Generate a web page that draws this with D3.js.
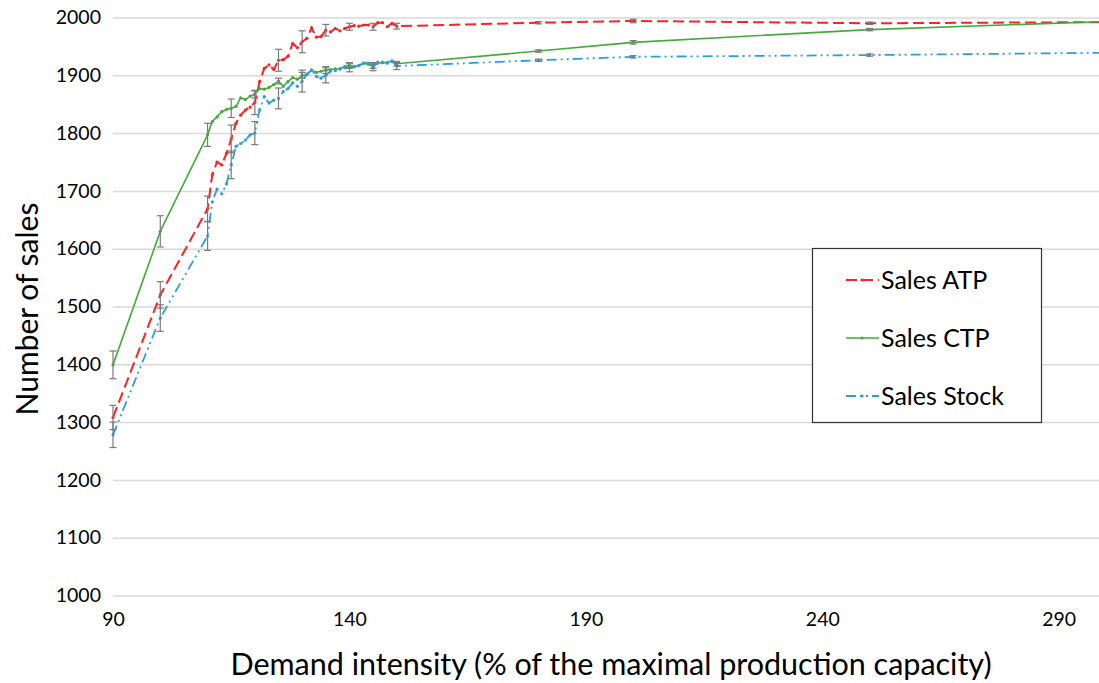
<!DOCTYPE html>
<html><head><meta charset="utf-8">
<script src="https://cdn.jsdelivr.net/npm/d3@7"></script>
<style>
html,body{margin:0;padding:0;background:#fff;overflow:hidden}
svg{display:block}
text{font-family:Lato,"Open Sans",sans-serif;fill:#000}
</style></head>
<body>
<svg id="c" width="1099" height="683"></svg>
<script>
const xs = [90,100,110,111,112,113,114,115,116,117,118,119,120,121,122,123,124,125,126,127,128,129,130,131,132,133,134,135,136,137,138,139,140,141,142,143,144,145,146,147,148,149,150,180,200,250,300];
const salesATP = [1308,1520,1669,1728,1750,1745,1765,1790,1817,1831,1840,1845,1853,1889,1912,1918,1910,1926,1927,1933,1955,1948,1958,1964,1982,1966,1967,1978,1975,1981,1977,1981,1984,1986,1985,1987,1987,1984,1991,1991,1984,1990,1985,1991,1994,1990,1992];
const salesCTP = [1399,1630,1797,1820,1828,1837,1841,1843,1846,1861,1858,1864,1867,1877,1876,1879,1884,1890,1881,1889,1896,1893,1900,1901,1909,1905,1907,1909,1910,1911,1911,1915,1917,1915,1917,1921,1919,1917,1921,1922,1922,1925,1920,1942,1957,1979,1993];
const salesStock = [1278,1480,1622,1681,1703,1695,1712,1745,1777,1782,1788,1797,1800,1840,1863,1852,1857,1860,1872,1877,1887,1881,1890,1902,1909,1898,1895,1900,1907,1908,1911,1913,1913,1915,1917,1921,1921,1914,1923,1923,1921,1924,1916,1926,1932,1935,1939];
const errX = [90,100,110,115,120,125,130,135,140,145,150,180,200,250,300];
const errATP = [21,23,22,24,21,19,19,10,6,6,5,2,3,2,2];
const errCTP = [24,27,20,16,6,5,5,6,5,5,4,2,3,2,2];
const errStock = [22,23,25,24,20,18,19,13,7,6,6,2,2,2,2];
const yTicks = [1000,1100,1200,1300,1400,1500,1600,1700,1800,1900,2000];
const xTicks = [90,140,190,240,290];
const seriesNames = ["Sales ATP","Sales CTP","Sales Stock"];

const svg = d3.select("#c");
const x = d3.scaleLinear().domain([90,300]).range([113,1106]);
const y = d3.scaleLinear().domain([1000,2000]).range([595.5,17.5]);

const defs = svg.append("defs");
defs.append("clipPath").attr("id","clip").append("rect").attr("x",0).attr("y",0).attr("width",1099).attr("height",683);

// gridlines
const yAxis = d3.axisLeft(y).tickValues(yTicks).tickSize(-(1106-113)).tickFormat(d3.format("d")).tickPadding(12);
const gy = svg.append("g").attr("transform","translate(113,0)").call(yAxis);
gy.select(".domain").remove();
gy.selectAll(".tick line").attr("stroke","#d9d9d9").attr("stroke-width",1.5);
gy.selectAll(".tick text").attr("font-size",19.5).style("font-family","Lato");

const xAxis = d3.axisBottom(x).tickValues(xTicks).tickSize(0).tickPadding(17).tickFormat(d3.format("d"));
const gx = svg.append("g").attr("transform","translate(0,595.5)").call(xAxis);
gx.select(".domain").remove();
gx.selectAll(".tick text").attr("font-size",19.5).style("font-family","Lato");

// axis titles
svg.append("text").attr("x",611).attr("y",675).attr("text-anchor","middle").attr("font-size",30.5).text("Demand intensity (% of the maximal production capacity)");
svg.append("text").attr("transform","translate(38,309) rotate(-90)").attr("text-anchor","middle").attr("font-size",30).text("Number of sales");

const series = [
  {name:seriesNames[0], vals:salesATP, err:errATP, color:"#ff2020", dash:"11,5", w:2},
  {name:seriesNames[1], vals:salesCTP, err:errCTP, color:"#44ab3a", dash:null, w:1.6},
  {name:seriesNames[2], vals:salesStock, err:errStock, color:"#2a9fdc", dash:"10,4,2,4,2,4", w:1.8}
];

const plot = svg.append("g").attr("clip-path","url(#clip)");
const line = d3.line().x(d=>x(d[0])).y(d=>y(d[1]));

series.forEach(s=>{
  const pts = xs.map((v,i)=>[v,s.vals[i]]);
  plot.append("path").datum(pts).attr("d",line).attr("fill","none")
    .attr("stroke",s.color).attr("stroke-width",s.w)
    .attr("stroke-dasharray",s.dash);
  plot.selectAll(null).data(pts).enter().append("circle")
    .attr("cx",d=>x(d[0])).attr("cy",d=>y(d[1])).attr("r",1.6).attr("fill",s.color);
});
series.forEach(s=>{
  const eb = errX.map((v,i)=>{const k=xs.indexOf(v);return [v,s.vals[k],s.err[i]];});
  const g = plot.append("g").attr("stroke","#7a7a7a").attr("stroke-width",1.2);
  eb.forEach(d=>{
    const cx=x(d[0]), y1=y(d[1]+d[2]), y2=y(d[1]-d[2]);
    g.append("line").attr("x1",cx).attr("x2",cx).attr("y1",y1).attr("y2",y2);
    g.append("line").attr("x1",cx-3.5).attr("x2",cx+3.5).attr("y1",y1).attr("y2",y1);
    g.append("line").attr("x1",cx-3.5).attr("x2",cx+3.5).attr("y1",y2).attr("y2",y2);
  });
});

// legend
const lg = svg.append("g");
lg.append("rect").attr("x",812.5).attr("y",248.5).attr("width",229).attr("height",174).attr("fill","#fff").attr("stroke","#333").attr("stroke-width",1.2);
series.forEach((s,i)=>{
  const cy = 280 + i*58;
  lg.append("line").attr("x1",846).attr("x2",879).attr("y1",cy).attr("y2",cy)
    .attr("stroke",s.color).attr("stroke-width",s.w).attr("stroke-dasharray",s.dash);
  lg.append("circle").attr("cx",862).attr("cy",cy).attr("r",1.6).attr("fill",s.color);
  lg.append("text").attr("x",881).attr("y",cy).attr("dy","0.36em").attr("font-size",25).text(s.name);
});
</script>
</body></html>
